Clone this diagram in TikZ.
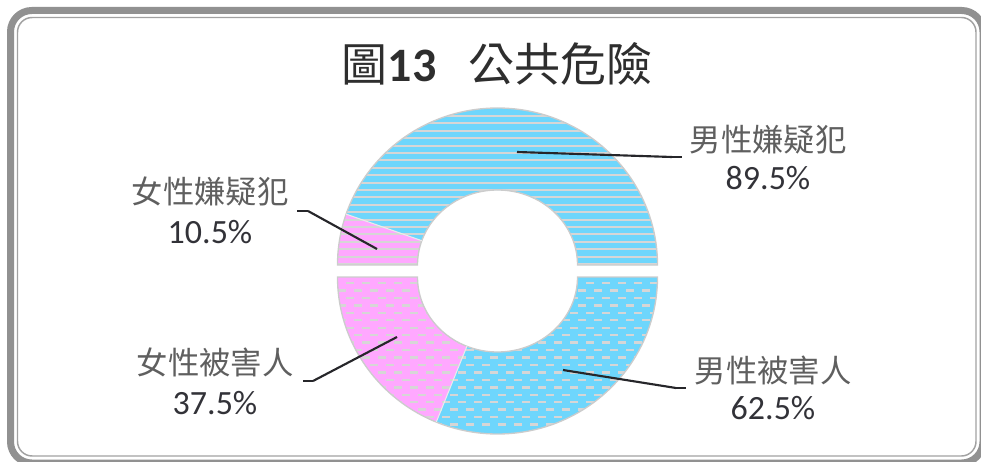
\documentclass[tikz,border=0pt]{standalone}
\usepackage{fontspec}
\setmainfont{Carlito}
\newfontfamily\cjk{Noto Sans CJK TC}
\usetikzlibrary{calc}
\definecolor{maleblue}{RGB}{110,214,252}
\definecolor{femalepink}{RGB}{255,168,255}
\definecolor{stripegray}{RGB}{214,214,214}
\definecolor{framegray}{RGB}{145,145,145}
\definecolor{labelgray}{RGB}{95,95,95}
\definecolor{valuegray}{RGB}{50,50,56}
\definecolor{leadergray}{RGB}{38,38,42}
\begin{document}
\begin{tikzpicture}[x=0.75pt,y=0.75pt]
	\useasboundingbox (0,0) rectangle (981,461);
	\clip (0,0) rectangle (981,461);
	
	% frame
	\draw [framegray,line width=5.25pt,rounded corners=16pt] (10.5,-2) rectangle (983,450.5);
	\draw [framegray!85,line width=1.1pt,rounded corners=11pt] (17.5,5) rectangle (976,443.5);
	
	\coordinate (cu) at (497.5,196);
	\coordinate (cl) at (497.5,184);
	
	% slices
	\fill [maleblue] (cu) ++(0:160 and 157) arc [start angle=0,end angle=161.1,x radius=160,y radius=157]
		-- ($(cu)+(161.1:80 and 75)$) arc [start angle=161.1,end angle=0,x radius=80,y radius=75] -- cycle;
	\fill [femalepink] (cu) ++(161.1:160 and 157) arc [start angle=161.1,end angle=180,x radius=160,y radius=157]
		-- ($(cu)+(180:80 and 75)$) arc [start angle=180,end angle=161.1,x radius=80,y radius=75] -- cycle;
	\fill [femalepink] (cl) ++(180:160 and 157) arc [start angle=180,end angle=247.5,x radius=160,y radius=157]
		-- ($(cl)+(247.5:80 and 75)$) arc [start angle=247.5,end angle=180,x radius=80,y radius=75] -- cycle;
	\fill [maleblue] (cl) ++(247.5:160 and 157) arc [start angle=247.5,end angle=360,x radius=160,y radius=157]
		-- ($(cl)+(360:80 and 75)$) arc [start angle=360,end angle=247.5,x radius=80,y radius=75] -- cycle;
	
	% stripes, upper half
	\begin{scope}[even odd rule]
		\clip (cu) ellipse [x radius=160,y radius=157] (cu) ellipse [x radius=80,y radius=75];
		\foreach \i in {0,...,20}
			\draw [stripegray,line width=1.6pt] (330,345-7.4*\i) -- (670,345-7.4*\i);
	\end{scope}
	
	% dashes, lower half
	\begin{scope}[even odd rule]
		\clip (cl) ellipse [x radius=160,y radius=157] (cl) ellipse [x radius=80,y radius=75];
		\foreach \i [evaluate=\i as \ph using {6*mod(\i,2)}] in {0,...,19}
			\draw [stripegray,line width=1.8pt,dash pattern=on 6pt off 6pt,dash phase=\ph pt] (330,178-7.45*\i) -- (670,178-7.45*\i);
	\end{scope}
	
	% edges
	\begin{scope}[every path/.style={draw=black!20,line width=1pt}]
		\path (cu) ++(0:160 and 157) arc [start angle=0,end angle=180,x radius=160,y radius=157]
			-- ($(cu)+(180:80 and 75)$) arc [start angle=180,end angle=0,x radius=80,y radius=75] -- cycle;
		\path (cl) ++(180:160 and 157) arc [start angle=180,end angle=360,x radius=160,y radius=157]
			-- ($(cl)+(0:80 and 75)$) arc [start angle=360,end angle=180,x radius=80,y radius=75] -- cycle;
	\end{scope}
	\begin{scope}[every path/.style={draw=white!92!black,line width=0.8pt}]
		\path ($(cu)+(161.1:80 and 75)$) -- ($(cu)+(161.1:160 and 157)$);
		\path ($(cl)+(247.5:80 and 75)$) -- ($(cl)+(247.5:160 and 157)$);
	\end{scope}
	
	% labels
	\begin{scope}[every node/.style={font=\cjk\fontsize{23.5}{26}\selectfont,text=labelgray,inner sep=0pt}]
		\node (msus) at (768,321) {男性嫌疑犯};
		\node (fsus) at (210,269) {女性嫌疑犯};
		\node (fvic) at (215,99) {女性被害人};
		\node (mvic) at (773,91) {男性被害人};
	\end{scope}
	\begin{scope}[every node/.style={font=\fontsize{25.5}{28}\selectfont,text=valuegray,inner sep=0pt}]
		\node (msusval) at (768,283) {89.5\%};
		\node (fsusval) at (210,229) {10.5\%};
		\node (fvicval) at (215,58) {37.5\%};
		\node (mvicval) at (773,53) {62.5\%};
	\end{scope}
	
	\node (title) [inner sep=0pt,text=black!82] at (497,397)
		{\fontsize{34.5}{38}\selectfont{\cjk 圖}\textbf{\fontsize{36}{38}\selectfont 13}\hspace{24pt}{\cjk 公共危險}};
	
	% leader lines
	\coordinate (msusin) at (517,309);
	\coordinate (msusbend) at (672,304);
	\coordinate (msusend) at (682,304);
	\coordinate (fsusin) at (377,212);
	\coordinate (fsusbend) at (308,250);
	\coordinate (fsusend) at (297,250);
	\coordinate (fvicin) at (397,124);
	\coordinate (fvicbend) at (313,80);
	\coordinate (fvicend) at (303,80);
	\coordinate (mvicin) at (563,91);
	\coordinate (mvicbend) at (676,73);
	\coordinate (mvicend) at (686,73);
	\begin{scope}[every edge/.style={draw=leadergray,line width=1.6pt}]
		\path (msusin) edge (msusbend) (msusbend) edge (msusend);
		\path (fsusin) edge (fsusbend) (fsusbend) edge (fsusend);
		\path (fvicin) edge (fvicbend) (fvicbend) edge (fvicend);
		\path (mvicin) edge (mvicbend) (mvicbend) edge (mvicend);
	\end{scope}
\end{tikzpicture}
\end{document}
